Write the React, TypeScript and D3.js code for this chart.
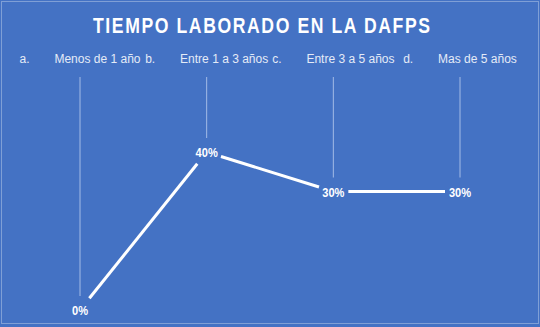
import { useEffect, useRef } from 'react';
import * as d3 from 'd3';

const letters = ['a.', 'b.', 'c.', 'd.'];
const categories = ['Menos de 1 año', 'Entre 1 a 3 años', 'Entre 3 a 5 años', 'Mas de 5 años'];
const values = [0, 40, 30, 30];
const title = 'TIEMPO LABORADO EN LA DAFPS';

const W = 540;
const H = 327;

const App = () => {
  const svgRef = useRef<SVGSVGElement>(null);

  useEffect(() => {
    const svg = d3.select(svgRef.current);
    svg.selectAll('*').remove();

    // background + faint frame
    svg.append('rect').attr('width', W).attr('height', H).attr('fill', '#4472c4');
    svg.append('rect')
      .attr('x', 1.5).attr('y', 1.5)
      .attr('width', W - 3).attr('height', H - 5)
      .attr('fill', 'none')
      .attr('stroke', '#7f9fd6')
      .attr('stroke-width', 1);

    const x = d3.scalePoint<string>().domain(categories).range([80, 460]);
    const y = d3.scaleLinear().domain([0, 40]).range([310, 152]);
    const narrow = 0.89; // fake a condensed face

    // title, condensed and letter-spaced
    const tScale = 0.8;
    svg.append('text')
      .attr('transform', `translate(93,33) scale(${tScale},1)`)
      .attr('textLength', 337 / tScale)
      .attr('lengthAdjust', 'spacing')
      .attr('fill', '#fff')
      .style('font-family', 'Liberation Sans, Arial, sans-serif')
      .style('font-weight', 'bold')
      .style('font-size', '22px')
      .text(title);

    // category labels (letter + name, centered on the point)
    const lab = svg.selectAll('.cat')
      .data(categories)
      .enter()
      .append('text')
      .attr('class', 'cat')
      .attr('transform', d => `translate(${x(d)},63) scale(${narrow},1)`)
      .attr('text-anchor', 'middle')
      .attr('fill', '#e4ebf7')
      .style('font-family', 'Liberation Sans, Arial, sans-serif')
      .style('font-size', '13.5px');
    lab.append('tspan').text((d, i) => letters[i]);
    lab.append('tspan').attr('dx', 28).text(d => d);

    // drop lines
    svg.selectAll('.drop')
      .data(categories)
      .enter()
      .append('line')
      .attr('x1', d => x(d)!).attr('x2', d => x(d)!)
      .attr('y1', 77)
      .attr('y2', (d, i) => y(values[i]) - 14)
      .attr('stroke', '#a3bbe6')
      .attr('stroke-width', 1);

    // line segments, cut short around labels
    const pts = categories.map((c, i) => [x(c)!, y(values[i])]);
    const gap = 15;
    const segs = d3.pairs(pts).map(([a, b]) => {
      const dx = b[0] - a[0];
      const dy = b[1] - a[1];
      const len = Math.hypot(dx, dy);
      const ux = dx / len, uy = dy / len;
      return [a[0] + ux * gap, a[1] + uy * gap, b[0] - ux * gap, b[1] - uy * gap];
    });
    svg.selectAll('.seg')
      .data(segs)
      .enter()
      .append('line')
      .attr('x1', d => d[0]).attr('y1', d => d[1])
      .attr('x2', d => d[2]).attr('y2', d => d[3])
      .attr('stroke', '#fff')
      .attr('stroke-width', 3);

    // value labels
    svg.selectAll('.val')
      .data(values)
      .enter()
      .append('text')
      .attr('transform', (d, i) => `translate(${x(categories[i])},${y(d) + 5}) scale(0.82,1)`)
      .attr('text-anchor', 'middle')
      .attr('fill', '#fff')
      .style('font-family', 'Liberation Sans, Arial, sans-serif')
      .style('font-weight', 'bold')
      .style('font-size', '13.5px')
      .text(d => `${d}%`);
  }, []);

  return (
    <svg
      ref={svgRef}
      width={W}
      height={H}
      style={{ position: 'fixed', left: 0, top: 0, display: 'block' }}
    />
  );
};

export default App;
